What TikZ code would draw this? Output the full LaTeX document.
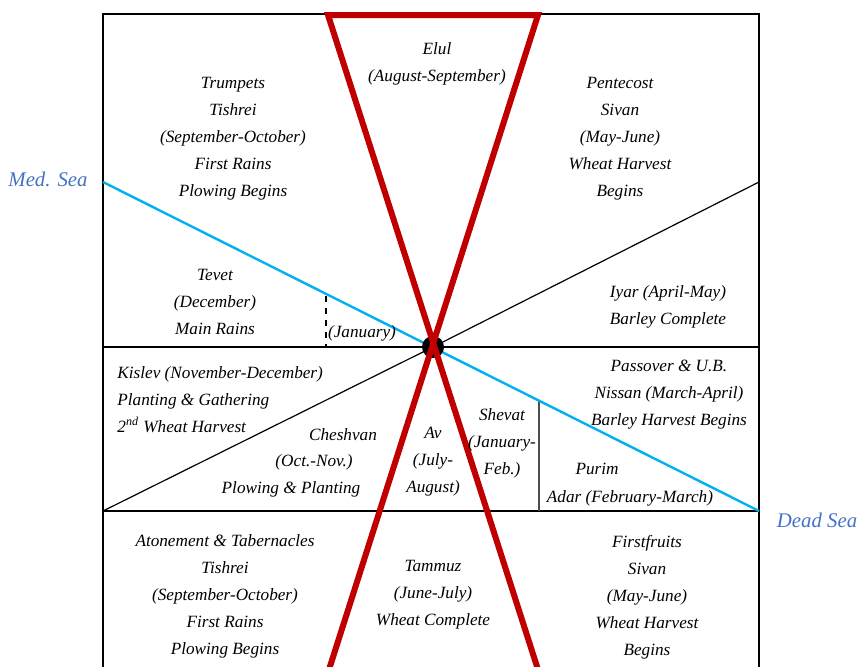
\documentclass[tikz,border=0pt]{standalone}
\usepackage{fontspec}
\setmainfont{Liberation Serif}
\definecolor{hgred}{HTML}{C00000}
\definecolor{seablue}{HTML}{00B0F0}
\definecolor{seatext}{HTML}{4472C4}
\tikzset{
    txt/.style={font=\fontsize{8.6}{13.5}\selectfont\itshape, align=center, inner sep=0pt},
    sea/.style={font=\fontsize{10.4}{12}\selectfont\itshape, text=seatext, inner sep=0pt},
}
\begin{document}
\begin{tikzpicture}[x=0.5pt, y=-0.5pt]
    \clip (0,0) rectangle (857,666);
    % 坐标
    \coordinate (tl) at (103,14);
    \coordinate (br) at (759,670);
    \coordinate (c) at (433,347);
    \coordinate (ml) at (103,347);
    \coordinate (mr) at (759,347);
    \coordinate (ll) at (103,511);
    \coordinate (lr) at (759,511);
    \coordinate (medend) at (103,182);
    \coordinate (ur) at (759,182);
    \coordinate (rtl) at (328,15);
    \coordinate (rtr) at (538,15);
    \coordinate (rbr) at (541,679);
    \coordinate (rbl) at (326,679);
    \coordinate (sv1) at (539,401);
    \coordinate (sv2) at (539,511);
    \coordinate (dv1) at (326,296);
    \coordinate (dv2) at (326,347);

    % 外框和分隔线
    \draw[line width=1pt] (tl) rectangle (br);
    \draw[line width=0.6pt] (ml) -- (mr);
    \draw[line width=0.6pt] (ll) -- (lr);
    \draw[line width=0.6pt] (ll) -- (c) -- (ur);
    \draw[line width=0.8pt, black!70] (sv1) -- (sv2);
    \draw[line width=0.6pt, dashed] (dv1) -- (dv2);
    \draw[line width=1.2pt, seablue] (medend) -- (lr);
    \fill (c) circle (11);
    \draw[line width=3pt, hgred, miter limit=10] (rbr) -- (rtl) -- (rtr) -- (rbl);

    % 文字
    \node[txt] (elul) at (437,64) {Elul\\(August-September)};
    \node[txt] (trumpets) at (233,139) {Trumpets\\Tishrei\\(September-October)\\First Rains\\Plowing Begins};
    \node[txt] (pentecost) at (620,139) {Pentecost\\Sivan\\(May-June)\\Wheat Harvest\\Begins};
    \node[txt] (tevet) at (215,302) {Tevet\\(December)\\Main Rains};
    \node[txt] (january) at (362,333) {(January)};
    \node[txt] (iyar) at (668,307) {Iyar (April-May)\\Barley Complete};
    \node[txt, align=left, anchor=west] (kislev) at (117,400) {Kislev (November-December)\\Planting \& Gathering\\2\textsuperscript{nd} Wheat Harvest};
    \node[txt] (cheshvan) at (343,435) {Cheshvan};
    \node[txt] (octnov) at (314,462) {(Oct.-Nov.)};
    \node[txt] (plowplant) at (291,489) {Plowing \& Planting};
    \node[txt] (av) at (433,462) {Av\\(July-\\August)};
    \node[txt] (shevat) at (502,443) {Shevat\\(January-\\Feb.)};
    \node[txt] (passover) at (669,395) {Passover \& U.B.\\Nissan (March-April)\\Barley Harvest Begins};
    \node[txt] (purim) at (597,469) {Purim};
    \node[txt] (adar) at (630,498) {Adar (February-March)};
    \node[txt] (atonement) at (225,596) {Atonement \& Tabernacles\\Tishrei\\(September-October)\\First Rains\\Plowing Begins};
    \node[txt] (tammuz) at (433,595) {Tammuz\\(June-July)\\Wheat Complete};
    \node[txt] (firstfruits) at (647,597) {Firstfruits\\Sivan\\(May-June)\\Wheat Harvest\\Begins};
    \node[sea] (medsea) at (48,179) {Med. Sea};
    \node[sea] (deadsea) at (817,520) {Dead Sea};
\end{tikzpicture}
\end{document}
